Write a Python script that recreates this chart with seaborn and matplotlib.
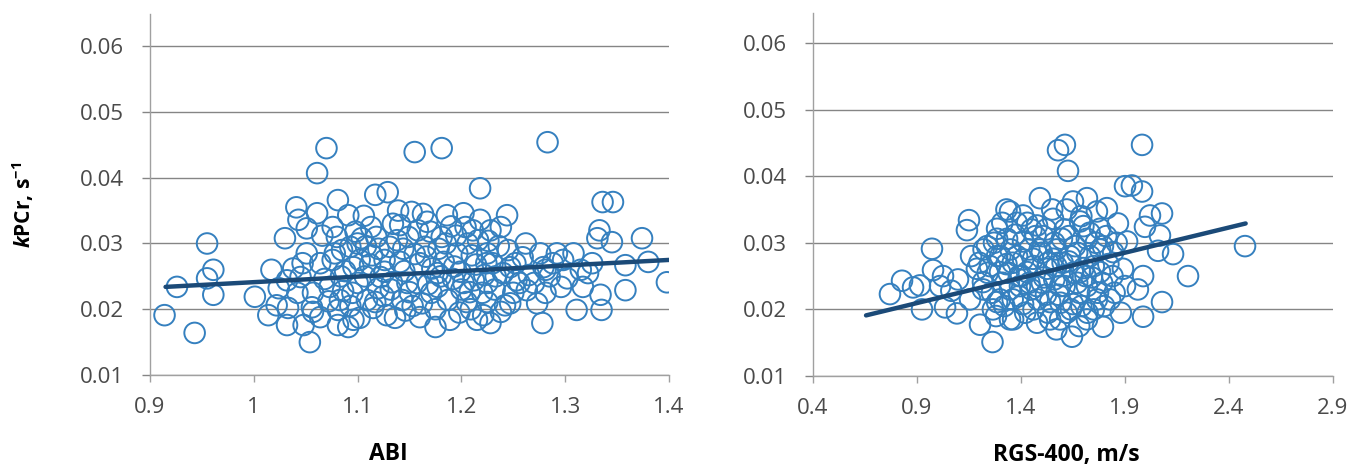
import matplotlib
matplotlib.use("Agg")
import matplotlib.pyplot as plt
import seaborn as sns

# ---- data -------------------------------------------------------------
abi = [
    1.070, 1.061, 1.041, 1.061, 1.043, 1.051, 1.030, 0.955, 1.051, 1.064,
    1.017, 0.961, 0.955, 0.926, 0.961, 1.001, 1.032, 1.045, 1.042, 1.057,
    0.914, 0.943, 1.014, 1.033, 1.056, 1.032, 1.048, 1.054, 1.064, 1.081,
    1.091, 1.117, 1.129, 1.076, 1.104, 1.118, 1.080, 1.093, 1.114, 1.076,
    1.096, 1.073, 1.122, 1.133, 1.109, 1.115, 1.081, 1.096, 1.128, 1.081,
    1.057, 1.155, 1.181, 1.218, 1.141, 1.152, 1.167, 1.186, 1.202, 1.211,
    1.228, 1.149, 1.131, 1.165, 1.181, 1.196, 1.210, 1.225, 1.141, 1.160,
    1.088, 1.126, 1.177, 1.199, 1.100, 1.157, 1.177, 1.202, 1.225, 1.083,
    1.117, 1.143, 1.162, 1.187, 1.205, 1.225, 1.102, 1.136, 1.160, 1.189,
    1.215, 1.175, 1.091, 1.228, 1.283, 1.336, 1.346, 1.244, 1.333, 1.345,
    1.374, 1.331, 1.380, 1.398, 1.358, 1.358, 1.335, 1.311, 1.334, 1.317,
    1.302, 1.326, 1.308, 1.292, 1.276, 1.279, 1.259, 1.253, 1.273, 1.278,
    1.247, 1.221, 1.230, 1.247, 1.322, 1.281, 1.256, 1.240, 1.281, 1.263,
    1.242, 1.085, 1.098, 1.108, 1.112, 1.120, 1.125, 1.138, 1.145, 1.150,
    1.155, 1.170, 1.172, 1.175, 1.183, 1.190, 1.192, 1.198, 1.206, 1.208,
    1.214, 1.218, 1.222, 1.232, 1.236, 1.238, 1.066, 1.068, 1.072, 1.086,
    1.093, 1.102, 1.106, 1.134, 1.146, 1.163, 1.168, 1.178, 1.195, 1.212,
    1.226, 1.252, 1.265, 1.288, 1.296, 1.024, 1.038, 1.047, 1.022, 1.078,
    1.084, 1.095, 1.100, 1.107, 1.113, 1.120, 1.126, 1.132, 1.139, 1.144,
    1.148, 1.153, 1.158, 1.166, 1.171, 1.180, 1.185, 1.193, 1.200, 1.204,
    1.209, 1.216, 1.220, 1.224, 1.233, 1.238, 1.245, 1.250, 1.262, 1.270,
    1.285, 1.298, 1.315,
]
kpcr_abi = [
    0.0445, 0.0407, 0.0355, 0.0346, 0.0336, 0.0323, 0.0308, 0.0300, 0.0285, 0.0270,
    0.0260, 0.0260, 0.0247, 0.0234, 0.0222, 0.0219, 0.0244, 0.0249, 0.0225, 0.0225,
    0.0191, 0.0164, 0.0191, 0.0202, 0.0203, 0.0176, 0.0176, 0.0150, 0.0188, 0.0366,
    0.0343, 0.0374, 0.0378, 0.0325, 0.0308, 0.0310, 0.0310, 0.0295, 0.0282, 0.0275,
    0.0264, 0.0234, 0.0249, 0.0241, 0.0214, 0.0202, 0.0199, 0.0184, 0.0191, 0.0176,
    0.0196, 0.0439, 0.0445, 0.0384, 0.0328, 0.0348, 0.0333, 0.0343, 0.0346, 0.0320,
    0.0320, 0.0310, 0.0295, 0.0295, 0.0310, 0.0285, 0.0282, 0.0285, 0.0272, 0.0270,
    0.0258, 0.0257, 0.0255, 0.0257, 0.0240, 0.0240, 0.0234, 0.0240, 0.0240, 0.0214,
    0.0211, 0.0214, 0.0209, 0.0214, 0.0211, 0.0211, 0.0187, 0.0187, 0.0188, 0.0184,
    0.0184, 0.0173, 0.0173, 0.0179, 0.0454, 0.0363, 0.0363, 0.0343, 0.0320, 0.0302,
    0.0308, 0.0308, 0.0272, 0.0241, 0.0267, 0.0229, 0.0199, 0.0199, 0.0222, 0.0234,
    0.0247, 0.0270, 0.0285, 0.0285, 0.0285, 0.0264, 0.0279, 0.0244, 0.0209, 0.0179,
    0.0209, 0.0191, 0.0270, 0.0264, 0.0255, 0.0260, 0.0240, 0.0255, 0.0225, 0.0229,
    0.0206, 0.0290, 0.0318, 0.0296, 0.0268, 0.0232, 0.0220, 0.0305, 0.0258, 0.0226,
    0.0284, 0.0318, 0.0262, 0.0200, 0.0272, 0.0326, 0.0246, 0.0195, 0.0300, 0.0226,
    0.0268, 0.0336, 0.0252, 0.0230, 0.0296, 0.0196, 0.0312, 0.0246, 0.0212, 0.0228,
    0.0205, 0.0275, 0.0342, 0.0330, 0.0198, 0.0345, 0.0238, 0.0292, 0.0312, 0.0244,
    0.0304, 0.0270, 0.0252, 0.0270, 0.0234, 0.0232, 0.0262, 0.0270, 0.0206, 0.0285,
    0.0250, 0.0225, 0.0300, 0.0250, 0.0325, 0.0292, 0.0275, 0.0230, 0.0350, 0.0292,
    0.0240, 0.0205, 0.0320, 0.0280, 0.0225, 0.0250, 0.0300, 0.0265, 0.0230, 0.0325,
    0.0200, 0.0305, 0.0225, 0.0270, 0.0250, 0.0325, 0.0290, 0.0225, 0.0300, 0.0240,
    0.0250, 0.0275, 0.0260,
]

rgs = [
    0.972, 0.770, 0.828, 0.881, 0.914, 0.924, 0.977, 1.035, 1.011, 1.092,
    1.097, 1.140, 1.150, 1.160, 1.188, 1.217, 1.203, 1.263, 1.025, 1.155,
    1.237, 1.217, 1.265, 1.347, 1.285, 1.251, 1.299, 1.347, 1.381, 1.395,
    1.065, 1.578, 1.611, 1.626, 1.491, 1.330, 1.410, 1.650, 1.717, 1.765,
    1.285, 1.477, 1.554, 1.684, 1.780, 1.333, 1.410, 1.506, 1.597, 1.717,
    1.794, 1.285, 1.360, 1.458, 1.554, 1.636, 1.732, 1.299, 1.429, 1.525,
    1.684, 1.780, 1.347, 1.477, 1.588, 1.717, 1.285, 1.410, 1.540, 1.650,
    1.765, 1.362, 1.477, 1.588, 1.717, 1.645, 1.794, 1.982, 1.900, 1.933,
    1.982, 2.020, 2.078, 1.866, 1.996, 2.068, 1.813, 1.910, 2.131, 2.059,
    2.477, 2.203, 1.987, 1.890, 1.900, 1.962, 1.828, 2.078, 1.987, 1.843,
    1.310, 1.370, 1.390, 1.440, 1.450, 1.460, 1.500, 1.510, 1.520, 1.530,
    1.560, 1.570, 1.580, 1.600, 1.610, 1.620, 1.630, 1.660, 1.670, 1.680,
    1.700, 1.700, 1.740, 1.750, 1.760, 1.790, 1.820, 1.850, 1.430, 1.400,
    1.330, 1.620, 1.550, 1.470, 1.570, 1.690, 1.200, 1.220, 1.240, 1.260,
    1.270, 1.280, 1.300, 1.310, 1.320, 1.340, 1.350, 1.360, 1.380, 1.390,
    1.410, 1.420, 1.440, 1.450, 1.460, 1.480, 1.490, 1.500, 1.520, 1.530,
    1.540, 1.560, 1.570, 1.590, 1.600, 1.610, 1.630, 1.640, 1.650, 1.670,
    1.680, 1.690, 1.710, 1.720, 1.730, 1.750, 1.770, 1.780, 1.800, 1.810,
    1.840, 1.860, 1.880,
]
kpcr_rgs = [
    0.0291, 0.0223, 0.0243, 0.0233, 0.0236, 0.0200, 0.0259, 0.0203, 0.0235, 0.0194,
    0.0245, 0.0319, 0.0334, 0.0280, 0.0261, 0.0241, 0.0177, 0.0151, 0.0250, 0.0215,
    0.0295, 0.0230, 0.0200, 0.0347, 0.0306, 0.0265, 0.0215, 0.0185, 0.0280, 0.0235,
    0.0228, 0.0439, 0.0447, 0.0408, 0.0367, 0.0350, 0.0341, 0.0362, 0.0367, 0.0347,
    0.0321, 0.0326, 0.0336, 0.0332, 0.0321, 0.0306, 0.0302, 0.0310, 0.0306, 0.0306,
    0.0295, 0.0280, 0.0270, 0.0276, 0.0276, 0.0280, 0.0280, 0.0256, 0.0256, 0.0261,
    0.0256, 0.0256, 0.0230, 0.0235, 0.0235, 0.0235, 0.0211, 0.0208, 0.0211, 0.0208,
    0.0215, 0.0185, 0.0180, 0.0185, 0.0185, 0.0159, 0.0174, 0.0447, 0.0385, 0.0386,
    0.0377, 0.0341, 0.0344, 0.0329, 0.0324, 0.0311, 0.0352, 0.0302, 0.0283, 0.0288,
    0.0295, 0.0250, 0.0250, 0.0261, 0.0235, 0.0230, 0.0215, 0.0211, 0.0189, 0.0286,
    0.0240, 0.0312, 0.0220, 0.0290, 0.0230, 0.0200, 0.0285, 0.0248, 0.0222, 0.0195,
    0.0300, 0.0265, 0.0222, 0.0250, 0.0320, 0.0195, 0.0272, 0.0295, 0.0240, 0.0175,
    0.0262, 0.0325, 0.0248, 0.0200, 0.0300, 0.0240, 0.0268, 0.0225, 0.0330, 0.0250,
    0.0268, 0.0350, 0.0350, 0.0310, 0.0170, 0.0205, 0.0270, 0.0290, 0.0255, 0.0225,
    0.0300, 0.0190, 0.0280, 0.0330, 0.0205, 0.0255, 0.0290, 0.0215, 0.0330, 0.0250,
    0.0275, 0.0195, 0.0240, 0.0320, 0.0265, 0.0215, 0.0290, 0.0240, 0.0320, 0.0270,
    0.0185, 0.0245, 0.0290, 0.0210, 0.0270, 0.0235, 0.0310, 0.0200, 0.0255, 0.0285,
    0.0225, 0.0340, 0.0250, 0.0195, 0.0315, 0.0265, 0.0225, 0.0290, 0.0205, 0.0310,
    0.0250, 0.0300, 0.0195,
]

# linear trend lines (end points)
abi_trend_x = [0.915, 1.400]
abi_trend_y = [0.0234, 0.0275]
rgs_trend_x = [0.655, 2.480]
rgs_trend_y = [0.0191, 0.0329]

y_ticks = [0.01, 0.02, 0.03, 0.04, 0.05, 0.06]
abi_ticks = [0.9, 1.0, 1.1, 1.2, 1.3, 1.4]
abi_tick_labels = ["0.9", "1", "1.1", "1.2", "1.3", "1.4"]
rgs_ticks = [0.4, 0.9, 1.4, 1.9, 2.4, 2.9]
rgs_tick_labels = ["0.4", "0.9", "1.4", "1.9", "2.4", "2.9"]

# ---- style ------------------------------------------------------------
sns.set_theme(style="white")
FONT = "Open Sans"
plt.rcParams["font.family"] = [FONT, "DejaVu Sans"]
plt.rcParams["mathtext.fontset"] = "custom"
plt.rcParams["mathtext.it"] = f"{FONT}:italic:bold"
plt.rcParams["mathtext.rm"] = f"{FONT}:bold"
plt.rcParams["mathtext.default"] = "rm"

POINT_BLUE = "#3580bf"
LINE_BLUE = "#1b4a78"
GRID = "#858585"
AXIS = "#a0a0a0"
TICK_TXT = "#4a4a4a"
TICK_SIZE = 16

fig = plt.figure(figsize=(13.6, 4.66), dpi=100)
ax1 = fig.add_axes([150 / 1360, 91 / 466, 519 / 1360, 361 / 466])
ax2 = fig.add_axes([813 / 1360, 90 / 466, 520 / 1360, 363 / 466])


def draw_panel(ax, x, y, tx, ty, xlim, ylim, xticks, xlabels):
    sns.scatterplot(x=x, y=y, ax=ax, s=220, marker="o",
                    facecolor="none", edgecolor=POINT_BLUE, linewidth=1.4,
                    zorder=3)
    sns.lineplot(x=tx, y=ty, ax=ax, color=LINE_BLUE, linewidth=3.2,
                 zorder=4)
    ax.set_xlim(*xlim)
    ax.set_ylim(*ylim)
    ax.set_xticks(xticks)
    ax.set_xticklabels(xlabels)
    ax.set_yticks(y_ticks)
    ax.set_yticklabels([f"{v:.2f}" for v in y_ticks])
    ax.yaxis.grid(True, color=GRID, linewidth=1.0, zorder=0)
    ax.xaxis.grid(False)
    ax.set_axisbelow(True)
    for side in ("top", "right"):
        ax.spines[side].set_visible(False)
    for side in ("left", "bottom"):
        ax.spines[side].set_color(AXIS)
        ax.spines[side].set_linewidth(1.0)
    ax.tick_params(axis="x", bottom=True, direction="out", length=5,
                   width=1.0, color=AXIS, pad=11, labelsize=TICK_SIZE,
                   labelcolor=TICK_TXT)
    ax.tick_params(axis="y", left=True, direction="out", length=6,
                   width=1.0, color=GRID, pad=13, labelsize=TICK_SIZE,
                   labelcolor=TICK_TXT)


draw_panel(ax1, abi, kpcr_abi, abi_trend_x, abi_trend_y,
           (0.9, 1.4), (0.01, 0.0649), abi_ticks, abi_tick_labels)
draw_panel(ax2, rgs, kpcr_rgs, rgs_trend_x, rgs_trend_y,
           (0.4, 2.9), (0.01, 0.0645), rgs_ticks, rgs_tick_labels)

ax1.set_xlabel("ABI", fontsize=16.5, fontweight="bold", color="black")
ax1.xaxis.set_label_coords(0.46, -0.185)
ax2.set_xlabel("RGS-400, m/s", fontsize=16.5, fontweight="bold", color="black")
ax2.xaxis.set_label_coords(0.487, -0.185)
ax1.set_ylabel(r"$\mathit{k}$PCr, s$^{-1}$", fontsize=15,
               fontweight="bold", color="black")
ax1.yaxis.set_label_coords(-0.22, 0.47)

fig.savefig("out.png", dpi=100, facecolor="white")
